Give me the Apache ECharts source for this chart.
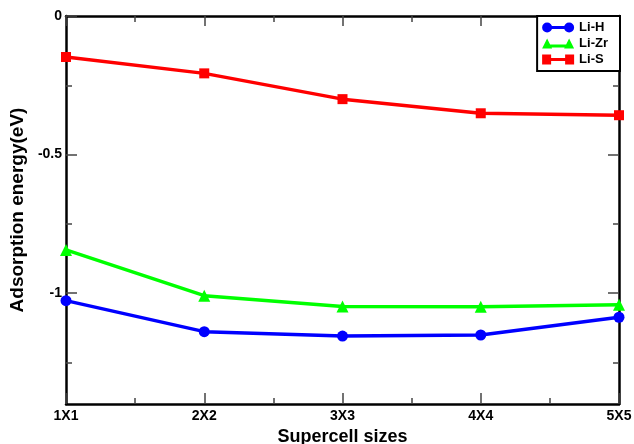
<!DOCTYPE html>
<html>
<head>
<meta charset="utf-8">
<script src="https://cdn.jsdelivr.net/npm/echarts@6/dist/echarts.min.js"></script>
<style>html,body{margin:0;padding:0;background:#fff;}#c{width:634px;height:444px;}</style>
</head>
<body>
<div id="c"></div>
<script>
var categories = ['1X1', '2X2', '3X3', '4X4', '5X5'];
var liH = [-1.027, -1.139, -1.155, -1.151, -1.087];
var liZr = [-0.844, -1.009, -1.048, -1.049, -1.042];
var liS = [-0.148, -0.207, -0.300, -0.351, -0.358];
var yMajorTicks = [0, -0.5, -1];
var yMinorTicks = [-0.25, -0.75, -1.25];
var xMinorTicks = [0.5, 1.5, 2.5, 3.5];

var FONT = 'Liberation Sans';
var tickStyle = {color: '#444', width: 1.5};
var frameLine = {show: true, onZero: false, lineStyle: {color: '#000', width: 2.5}};

function minorX(pos) {
  return {type: 'value', position: pos, min: 0, max: 4, gridIndex: 0,
    axisLine: {show: false, onZero: false}, splitLine: {show: false}, axisLabel: {show: false},
    axisTick: {show: true, inside: true, length: 6, lineStyle: tickStyle, customValues: xMinorTicks}};
}
function minorY(pos) {
  return {type: 'value', position: pos, min: -1.4, max: 0,
    axisLine: {show: false, onZero: false}, splitLine: {show: false}, axisLabel: {show: false},
    axisTick: {show: true, inside: true, length: 6, lineStyle: tickStyle, customValues: yMinorTicks}};
}

var chart = echarts.init(document.getElementById('c'));
chart.setOption({
  animation: false,
  backgroundColor: '#fff',
  grid: {left: 66, right: 15, top: 16, bottom: 40, containLabel: false, outerBoundsMode: 'none'},
  legend: {
    orient: 'vertical', right: 14, top: 16,
    backgroundColor: '#fff', borderColor: '#000', borderWidth: 2,
    padding: [5, 12, 5, 5], itemGap: 3, itemWidth: 32, itemHeight: 10,
    symbolKeepAspect: false,
    textStyle: {fontFamily: FONT, fontWeight: 'bold', fontSize: 13, color: '#000', padding: [0, 0, 0, 0]},
    data: [
      {name: 'Li-H', icon: 'path://M0,5A5,5,0,1,1,10,5A5,5,0,1,1,0,5Z M22,5A5,5,0,1,1,32,5A5,5,0,1,1,22,5Z M5,3.5L27,3.5L27,6.5L5,6.5Z'},
      {name: 'Li-Zr', icon: 'path://M0,10L5,0L10,10Z M22,10L27,0L32,10Z M5,6L27,6L27,9L5,9Z'},
      {name: 'Li-S', icon: 'path://M0,0L9,0L9,10L0,10Z M23,0L32,0L32,10L23,10Z M9,3.5L23,3.5L23,6.5L9,6.5Z'}
    ]
  },
  xAxis: [
    {type: 'category', position: 'bottom', data: categories, boundaryGap: false,
      axisLine: frameLine,
      axisTick: {show: true, inside: true, length: 11, lineStyle: tickStyle},
      axisLabel: {margin: 5, fontFamily: FONT, fontWeight: 'bold', fontSize: 14, color: '#000'},
      splitLine: {show: false},
      name: 'Supercell sizes', nameLocation: 'middle', nameGap: 19,
      nameTextStyle: {fontFamily: FONT, fontWeight: 'bold', fontSize: 18, color: '#000'}},
    {type: 'category', position: 'top', data: categories, boundaryGap: false,
      axisLine: frameLine,
      axisTick: {show: true, inside: true, length: 10, lineStyle: tickStyle},
      axisLabel: {show: false}, splitLine: {show: false}},
    minorX('bottom'),
    minorX('top')
  ],
  yAxis: [
    {type: 'value', position: 'left', min: -1.4, max: 0,
      axisLine: frameLine,
      axisTick: {show: true, inside: true, length: 11, lineStyle: tickStyle, customValues: yMajorTicks},
      axisLabel: {margin: 4, fontFamily: FONT, fontWeight: 'bold', fontSize: 14, color: '#000', customValues: yMajorTicks,
        formatter: function (v) { return String(Math.round(v * 100) / 100); }},
      splitLine: {show: false},
      name: 'Adsorption energy(eV)', nameLocation: 'middle', nameGap: 34,
      nameTextStyle: {fontFamily: FONT, fontWeight: 'bold', fontSize: 19, color: '#000'}},
    {type: 'value', position: 'right', min: -1.4, max: 0,
      axisLine: frameLine,
      axisTick: {show: true, inside: true, length: 11, lineStyle: tickStyle, customValues: yMajorTicks},
      axisLabel: {show: false}, splitLine: {show: false}},
    minorY('left'),
    minorY('right')
  ],
  series: [
    {name: 'Li-H', type: 'line', data: liH, xAxisIndex: 0, yAxisIndex: 0,
      symbol: 'circle', symbolSize: 11, clip: false,
      lineStyle: {color: '#0000ff', width: 3.5}, itemStyle: {color: '#0000ff'}},
    {name: 'Li-Zr', type: 'line', data: liZr, xAxisIndex: 0, yAxisIndex: 0,
      symbol: 'triangle', symbolSize: 12, clip: false,
      lineStyle: {color: '#00ff00', width: 3.5}, itemStyle: {color: '#00ff00'}},
    {name: 'Li-S', type: 'line', data: liS, xAxisIndex: 0, yAxisIndex: 0,
      symbol: 'rect', symbolSize: 10, clip: false,
      lineStyle: {color: '#ff0000', width: 3.5}, itemStyle: {color: '#ff0000'}}
  ]
});
</script>
</body>
</html>
